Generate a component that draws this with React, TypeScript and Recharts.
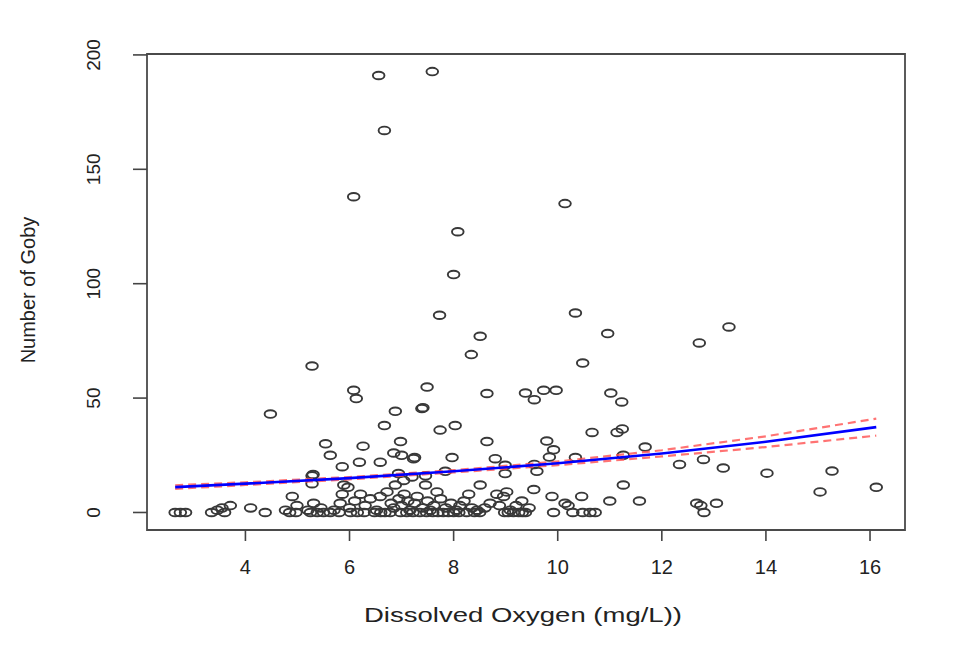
import { ScatterChart, Scatter, XAxis, YAxis, ReferenceArea } from "recharts";

const FONT = '"Liberation Sans", Arial, sans-serif';

const xTicks = [4, 6, 8, 10, 12, 14, 16];
const yTicks = [0, 50, 100, 150, 200];
const xDomain = [2.109, 16.672];
const yDomain = [-7.66, 200.4];

// dissolved oxygen of the samples with no goby
const zeroCatchDO = [
    2.65, 2.75, 2.85, 3.35, 3.6, 4.38, 4.85, 4.97, 5.25, 5.38, 5.5, 5.63, 5.8, 6.02, 6.15, 6.28,
    6.48, 6.6, 6.68, 6.78, 6.98, 7.1, 7.22, 7.35, 7.48, 7.6, 7.7, 7.8, 7.9, 8.0, 8.1, 8.25, 8.4,
    8.5, 8.98, 9.05, 9.15, 9.25, 9.32, 9.38, 9.92, 10.29, 10.48, 10.62, 10.72, 12.81,
];

// [DO, count] pairs
const lowCatch: [number, number][] = [
    [3.46, 1], [3.55, 2], [3.71, 3], [4.1, 2], [4.77, 1], [4.9, 7], [4.99, 3], [5.2, 1], [5.31, 4],
    [5.45, 2], [5.7, 1], [5.82, 4], [5.86, 8], [5.89, 12], [5.97, 11], [6.0, 2], [6.1, 5], [6.21, 8],
    [6.3, 3], [6.4, 6], [6.52, 1], [6.59, 7], [6.72, 9], [6.8, 4], [6.85, 2], [6.88, 12], [6.95, 6],
    [7.0, 3], [7.05, 8], [7.12, 5], [7.16, 1], [7.25, 4], [7.3, 7], [7.4, 2], [7.46, 12], [7.5, 5],
    [7.55, 1], [7.62, 3], [7.68, 9], [7.75, 6], [7.85, 2], [7.95, 4], [8.05, 1], [8.12, 3], [8.2, 5],
    [8.29, 8], [8.35, 2], [8.45, 1], [8.51, 12], [8.6, 2], [8.7, 4], [8.83, 8], [8.88, 3], [8.96, 7],
    [9.02, 9], [9.09, 1], [9.2, 3], [9.31, 5], [9.45, 2], [9.54, 10], [9.89, 7], [10.14, 4], [10.2, 3],
    [10.46, 7], [11.0, 5], [11.26, 12], [11.57, 5], [12.67, 4], [12.75, 3], [13.05, 4], [15.04, 9],
    [16.12, 11],
];

const midCatch: [number, number][] = [
    [5.28, 12.6], [5.28, 16], [5.3, 16.6], [5.54, 30], [5.63, 25], [5.86, 20], [6.19, 22], [6.26, 29],
    [6.59, 22], [6.67, 38], [6.85, 26], [6.94, 17], [6.98, 31], [7.0, 25], [7.04, 14], [7.2, 15.5],
    [7.23, 23.5], [7.25, 24], [7.46, 16], [7.74, 36], [7.84, 18], [7.97, 24], [8.03, 38], [8.64, 31],
    [8.8, 23.5], [8.99, 20.6], [8.99, 17], [9.55, 21], [9.6, 18], [9.79, 31.2], [9.92, 27.4],
    [9.84, 24.2], [10.34, 24], [10.66, 35], [11.14, 35], [11.24, 36.5], [11.26, 25], [11.68, 28.6],
    [12.34, 21], [12.8, 23.2], [13.18, 19.4], [14.02, 17.2], [15.27, 18.1],
];

const highCatch: [number, number][] = [
    [4.48, 43], [5.28, 64], [6.08, 53.4], [6.13, 49.8], [6.08, 138], [6.56, 191], [6.67, 167],
    [6.88, 44.2], [7.39, 45.4], [7.41, 45.8], [7.49, 54.8], [7.59, 192.7], [7.73, 86.2], [8.0, 104],
    [8.08, 122.7], [8.34, 69], [8.51, 77], [8.64, 52], [9.38, 52.2], [9.55, 49.3], [9.73, 53.4],
    [9.97, 53.4], [10.14, 135], [10.34, 87.2], [10.48, 65.3], [10.96, 78.2], [11.02, 52.2],
    [11.23, 48.3], [12.72, 74.1], [13.29, 81.1],
];

// fitted curve and its confidence band
const fitDO = [2.65, 4, 6, 8, 10, 12, 14, 16.12];
const fitMean = [11.1, 12.6, 15.0, 18.0, 21.5, 25.8, 30.9, 37.3];
const fitUpper = [11.9, 13.2, 15.5, 18.5, 22.3, 27.2, 33.3, 41.0];
const fitLower = [10.3, 12.0, 14.5, 17.5, 20.7, 24.5, 28.6, 33.6];

const observations = [
    ...zeroCatchDO.map((x) => ({ x, y: 0 })),
    ...lowCatch.map(([x, y]) => ({ x, y })),
    ...midCatch.map(([x, y]) => ({ x, y })),
    ...highCatch.map(([x, y]) => ({ x, y })),
];
const meanLine = fitDO.map((x, i) => ({ x, y: fitMean[i] }));
const upperLine = fitDO.map((x, i) => ({ x, y: fitUpper[i] }));
const lowerLine = fitDO.map((x, i) => ({ x, y: fitLower[i] }));

const OpenPoint = (props: any) => {
    const { cx, cy } = props;
    if (cx == null || cy == null) return <g />;
    return <ellipse cx={cx} cy={cy} rx={5.8} ry={3.8} fill="none" stroke="#383838" strokeWidth={1.9} />;
};

const NoShape = () => <g />;

const YTick = (props: any) => {
    const { x, y, payload } = props;
    return (
        <text x={x} y={y} transform={`rotate(-90 ${x} ${y})`} textAnchor="middle"
            fontFamily={FONT} fontSize={19} fill="#222">
            {payload.value}
        </text>
    );
};

const XTitle = (props: any) => {
    const vb = props.viewBox ?? { x: 147, y: 530, width: 758, height: 120 };
    return (
        <text x={vb.x + vb.width / 2 - 3} y={vb.y + 92} textAnchor="middle"
            fontFamily={FONT} fontSize={21} fill="#222" textLength={318} lengthAdjust="spacingAndGlyphs">
            Dissolved Oxygen (mg/L))
        </text>
    );
};

const YTitle = (props: any) => {
    const vb = props.viewBox ?? { x: 0, y: 54, width: 147, height: 476 };
    const x = 35;
    const y = vb.y + vb.height / 2 - 2;
    return (
        <text x={x} y={y} transform={`rotate(-90 ${x} ${y})`} textAnchor="middle"
            fontFamily={FONT} fontSize={20} fill="#222">
            Number of Goby
        </text>
    );
};

export default function App() {
    return (
        <div style={{ position: "absolute", left: 0, top: 0, width: 964, height: 650, background: "#fff" }}>
            <ScatterChart width={964} height={650} margin={{ top: 54, right: 59, bottom: 0, left: 0 }}>
                <XAxis type="number" dataKey="x" domain={xDomain} ticks={xTicks} interval={0}
                    allowDataOverflow axisLine={false}
                    tickLine={{ stroke: "#444", strokeWidth: 1.6 }} tickSize={11} tickMargin={19}
                    height={120} tick={{ fill: "#222", fontSize: 20, fontFamily: FONT }}
                    label={{ content: XTitle }} />
                <YAxis type="number" dataKey="y" domain={yDomain} ticks={yTicks} interval={0}
                    allowDataOverflow axisLine={false}
                    tickLine={{ stroke: "#444", strokeWidth: 1.6 }} tickSize={14} tickMargin={33}
                    width={147} tick={<YTick />}
                    label={{ content: YTitle }} />
                <ReferenceArea x1={xDomain[0]} x2={xDomain[1]} y1={yDomain[0]} y2={yDomain[1]}
                    fill="none" fillOpacity={0} stroke="#4a4a4a" strokeWidth={1.8} ifOverflow="visible" />
                <Scatter data={observations} shape={<OpenPoint />} isAnimationActive={false} />
                <Scatter data={upperLine} shape={<NoShape />} isAnimationActive={false}
                    line={{ stroke: "#ff5050", strokeWidth: 2.2, strokeDasharray: "8 5", strokeOpacity: 0.8 }} />
                <Scatter data={lowerLine} shape={<NoShape />} isAnimationActive={false}
                    line={{ stroke: "#ff5050", strokeWidth: 2.2, strokeDasharray: "8 5", strokeOpacity: 0.8 }} />
                <Scatter data={meanLine} shape={<NoShape />} isAnimationActive={false}
                    line={{ stroke: "#0000ff", strokeWidth: 2.6 }} />
            </ScatterChart>
        </div>
    );
}
